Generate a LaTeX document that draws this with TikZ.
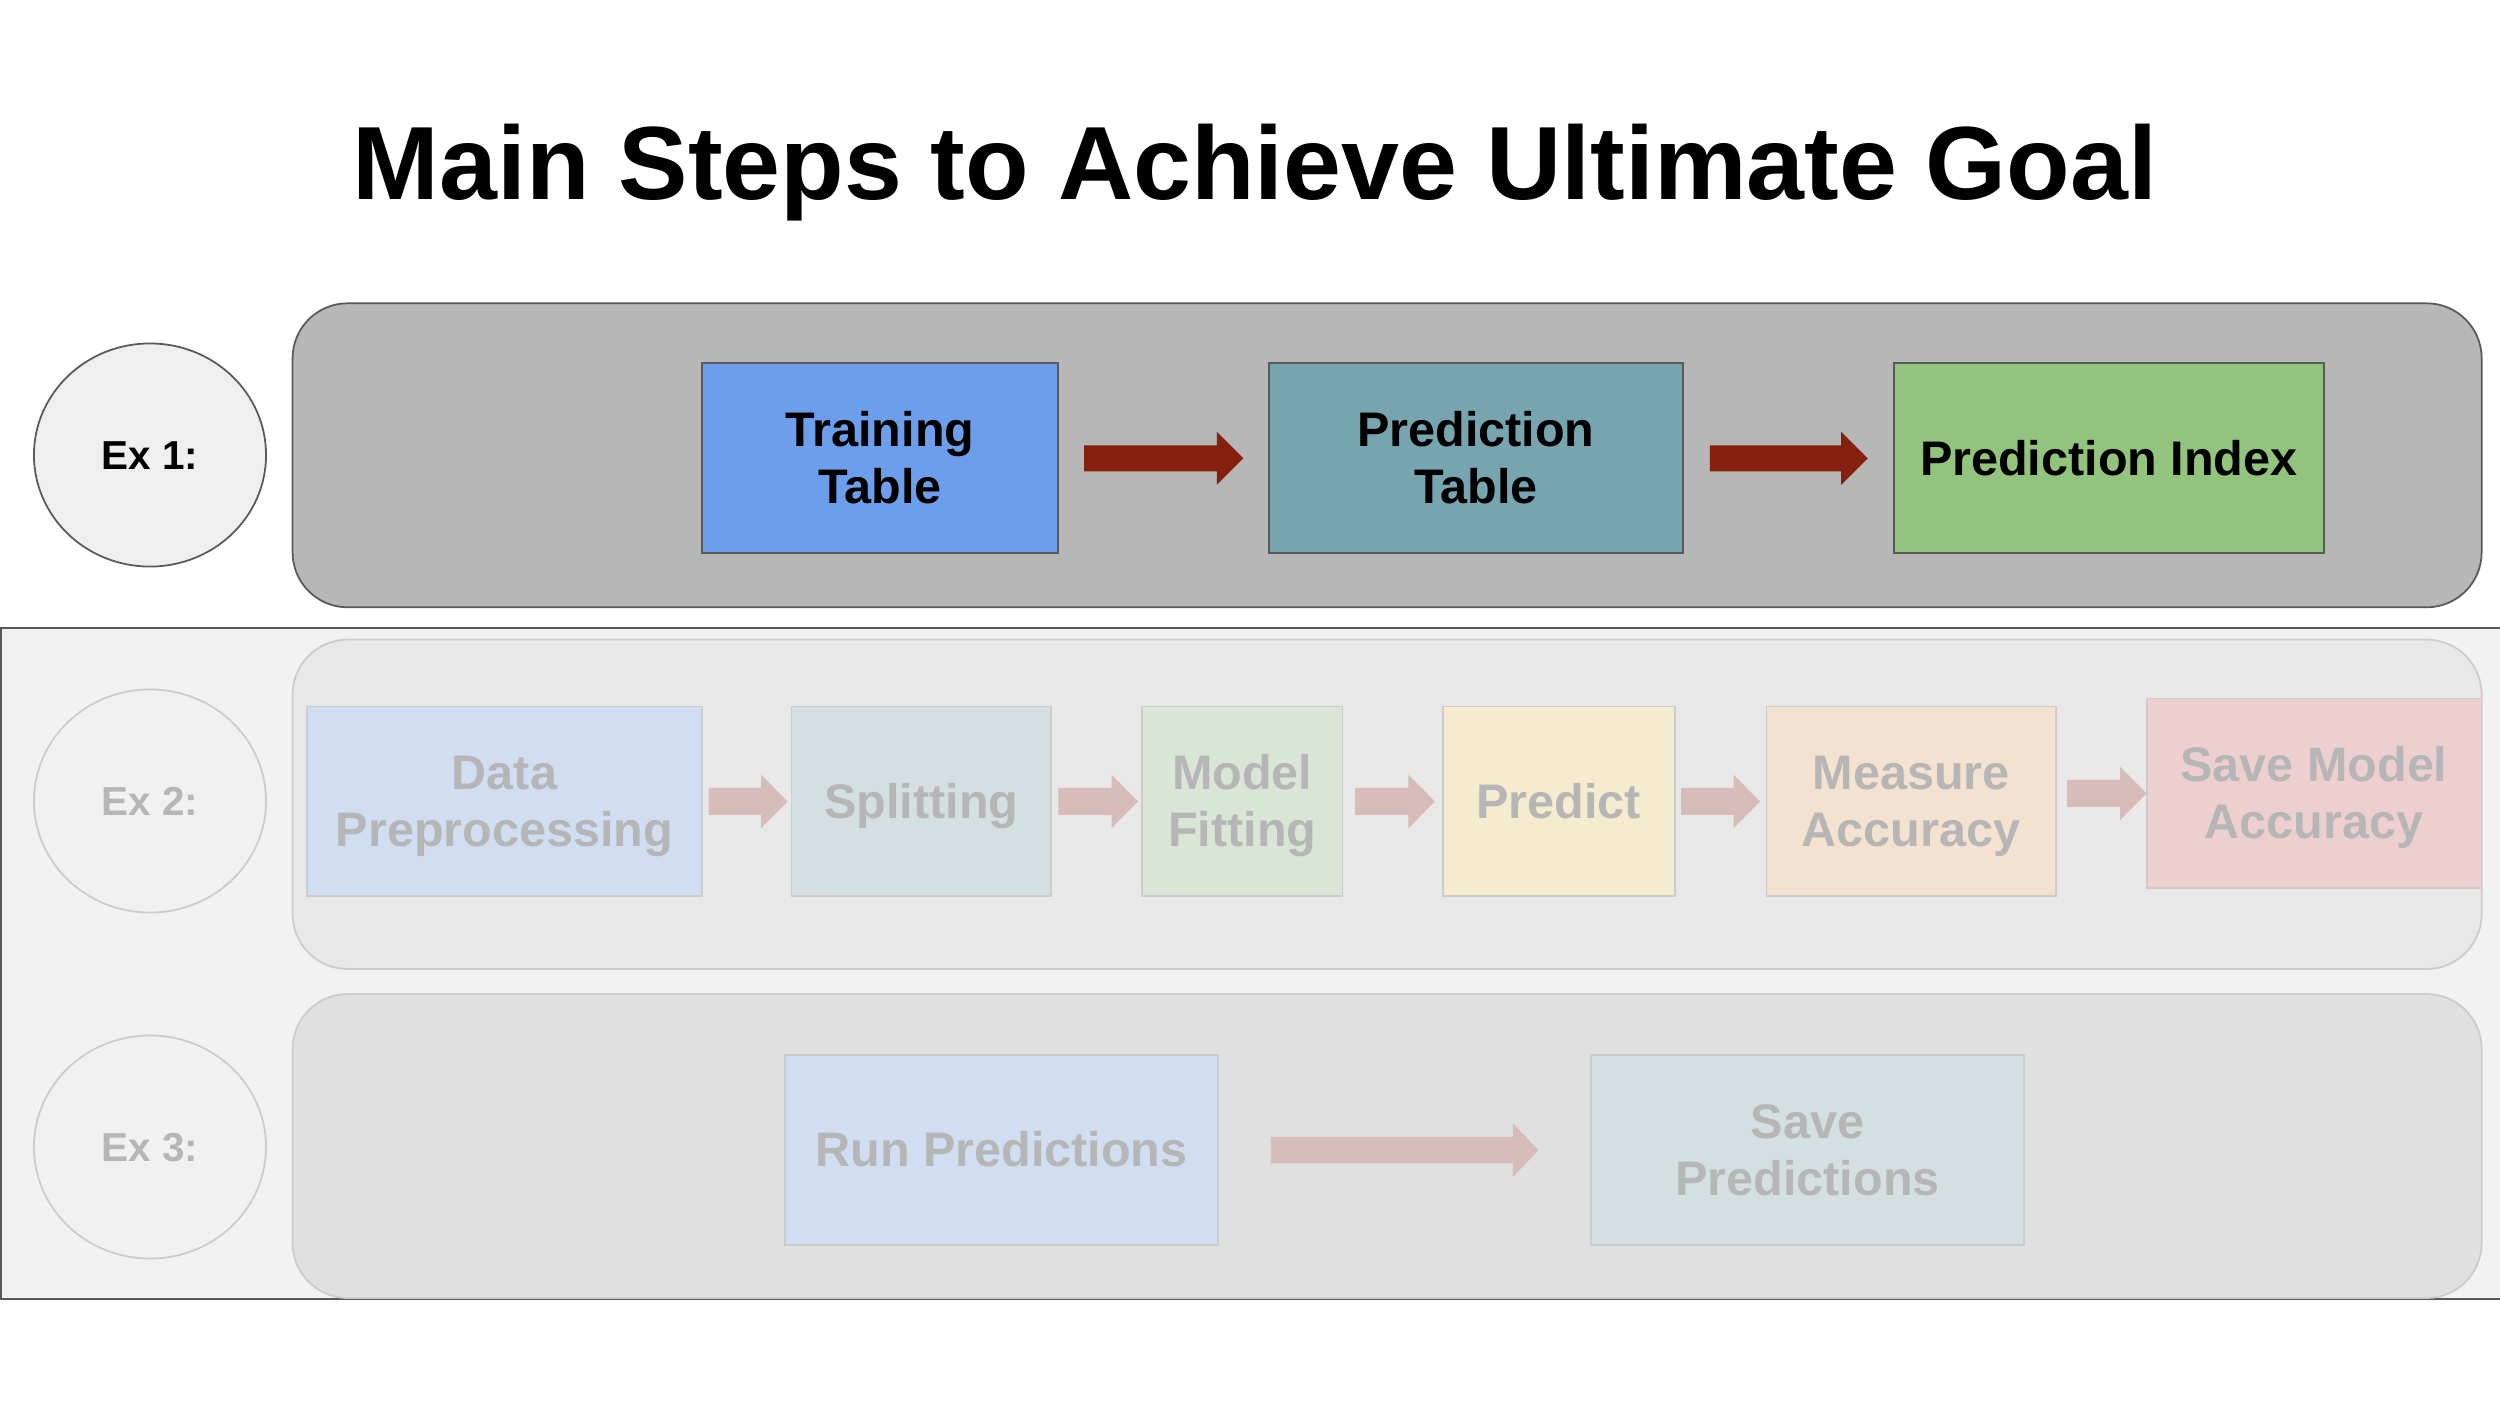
\documentclass[tikz,border=0pt]{standalone}
\usepackage{fontspec}
\setmainfont{Liberation Sans}
\usetikzlibrary{calc,shapes.geometric}
\definecolor{fbg}{HTML}{F2F2F2}
\definecolor{lineg}{HTML}{595959}
\definecolor{exonebg}{HTML}{B7B7B7}
\definecolor{extwobg}{HTML}{E8E8E8}
\definecolor{exthreebg}{HTML}{E0E0E0}
\definecolor{ellfill}{HTML}{EFEFEF}
\definecolor{cblue}{HTML}{6D9EEB}
\definecolor{ccyan}{HTML}{76A5AF}
\definecolor{cgreen}{HTML}{93C47D}
\definecolor{cyellow}{HTML}{FFD966}
\definecolor{corange}{HTML}{F6B26B}
\definecolor{cred}{HTML}{E06666}
\definecolor{arrowred}{HTML}{85200C}
\newcommand\mybxfont{\fontsize{13.8}{16.3}\selectfont\bfseries}
\newcommand\myexfont{\fontsize{11.5}{13.5}\selectfont\bfseries}
\newcommand\gs{\rule[-0.212em]{0pt}{1.117em}}
\newcommand\mkbox[7]{%
  \pgfmathsetmacro\mbcx{(#2+#4)/2}%
  \pgfmathsetmacro\mbcy{(#3+#5)/2}%
  \pgfmathsetmacro\mbw{(#4-#2)*0.01}%
  \pgfmathsetmacro\mbh{(#5-#3)*0.01}%
  \node[#6, minimum width=\mbw cm, minimum height=\mbh cm] (#1) at (\mbcx,\mbcy) {#7};}
% from, to, gap1, gap2, y-node, colour, shaft half, head half, head length
\newcommand\barrow[9]{%
  \fill[#6] let \p1=(#1.east), \p2=(#2.west), \p3=(#5.center) in
   (\x1+#3cm,\y3+#7cm) -- (\x2-#4cm-#9cm,\y3+#7cm) -- (\x2-#4cm-#9cm,\y3+#8cm)
   -- (\x2-#4cm,\y3) -- (\x2-#4cm-#9cm,\y3-#8cm) -- (\x2-#4cm-#9cm,\y3-#7cm)
   -- (\x1+#3cm,\y3-#7cm) -- cycle;}
\tikzset{
  plainbox/.style={inner sep=0pt, outer sep=0pt, align=center, line width=0.5pt},
  onebox/.style={plainbox, draw=lineg, font=\mybxfont, text=black},
  fadebox/.style={plainbox, draw=lineg!25!fbg, font=\mybxfont, text=black!25!fbg},
  lane/.style={plainbox, rounded corners=0.55cm},
  exell/.style={ellipse, inner sep=0pt, outer sep=0pt, line width=0.5pt,
     minimum width=2.32cm, minimum height=2.23cm, font=\myexfont},
}
\begin{document}
\begin{tikzpicture}[x=0.01cm, y=-0.01cm]
\useasboundingbox (0,0) rectangle (2500,1406);
\fill[white] (0,0) rectangle (2500,1406);

% title
\node[inner sep=0pt, anchor=base, font=\fontsize{29.6}{34}\selectfont\bfseries] (title) at (1255,199) {Main Steps to Achieve Ultimate Goal};

% Ex 1 lane
\mkbox{laneone}{292.6}{303.3}{2481.6}{607.3}{lane, fill=exonebg, draw=lineg}{}
\node[exell, fill=ellfill, draw=lineg] (exone) at (150,455) {\gs Ex 1:};
\mkbox{train}{702.2}{363.3}{1057.7}{553.3}{onebox, fill=cblue}{\gs Training\\\gs Table}
\mkbox{predtab}{1269.1}{363.3}{1682.8}{553.3}{onebox, fill=ccyan}{\gs Prediction\\\gs Table}
\mkbox{predidx}{1894}{363.3}{2323.6}{553.3}{onebox, fill=cgreen}{\gs Prediction Index}
\barrow{train}{predtab}{0.263}{0.257}{train}{arrowred}{0.13}{0.265}{0.265}
\barrow{predtab}{predidx}{0.271}{0.263}{predtab}{arrowred}{0.13}{0.265}{0.265}

% faded frame
\fill[fbg, draw=lineg, line width=0.5pt] (1,628) rectangle (2520,1299);

% Ex 2 lane
\mkbox{lanetwo}{292.6}{639.6}{2481.6}{969}{lane, fill=extwobg, draw=lineg!25!fbg}{}
\node[exell, fill=ellfill!25!fbg, draw=lineg!25!fbg, text=black!25!fbg] (extwo) at (150,801) {\gs Ex 2:};
\mkbox{prep}{306.9}{706.6}{702.2}{896.3}{fadebox, fill=cblue!25!fbg}{\gs Data\\\gs Preprocessing}
\mkbox{split}{791.4}{706.6}{1051.3}{896.3}{fadebox, fill=ccyan!25!fbg}{\gs Splitting}
\mkbox{fit}{1142.1}{706.6}{1342.5}{896.3}{fadebox, fill=cgreen!25!fbg}{\gs Model\\\gs Fitting}
\mkbox{predict}{1442.9}{706.6}{1674.8}{896.3}{fadebox, fill=cyellow!25!fbg}{\gs Predict}
\mkbox{measure}{1766.5}{706.6}{2055.8}{896.3}{fadebox, fill=corange!25!fbg}{\gs Measure\\\gs Accuracy}
\mkbox{savemodel}{2146.6}{698.6}{2481.4}{888.3}{fadebox, fill=cred!25!fbg}{\gs Save Model\\\gs Accuracy}
\barrow{prep}{split}{0.064}{0.038}{prep}{arrowred!25!fbg}{0.135}{0.267}{0.265}
\barrow{split}{fit}{0.071}{0.04}{split}{arrowred!25!fbg}{0.135}{0.267}{0.265}
\barrow{fit}{predict}{0.127}{0.08}{fit}{arrowred!25!fbg}{0.135}{0.267}{0.265}
\barrow{predict}{measure}{0.064}{0.064}{predict}{arrowred!25!fbg}{0.135}{0.267}{0.265}
\barrow{measure}{savemodel}{0.112}{0.0}{savemodel}{arrowred!25!fbg}{0.135}{0.267}{0.265}

% Ex 3 lane
\mkbox{lanethree}{292.6}{994}{2481.6}{1298}{lane, fill=exthreebg, draw=lineg!25!fbg}{}
\node[exell, fill=ellfill!25!fbg, draw=lineg!25!fbg, text=black!25!fbg] (exthree) at (150,1147) {\gs Ex 3:};
\mkbox{runpred}{785.1}{1055.2}{1217.9}{1245}{fadebox, fill=cblue!25!fbg}{\gs Run Predictions}
\mkbox{savepred}{1591.1}{1055.2}{2023.9}{1245}{fadebox, fill=ccyan!25!fbg}{\gs Save\\\gs Predictions}
\barrow{runpred}{savepred}{0.528}{0.526}{runpred}{arrowred!25!fbg}{0.133}{0.268}{0.255}
\end{tikzpicture}
\end{document}
